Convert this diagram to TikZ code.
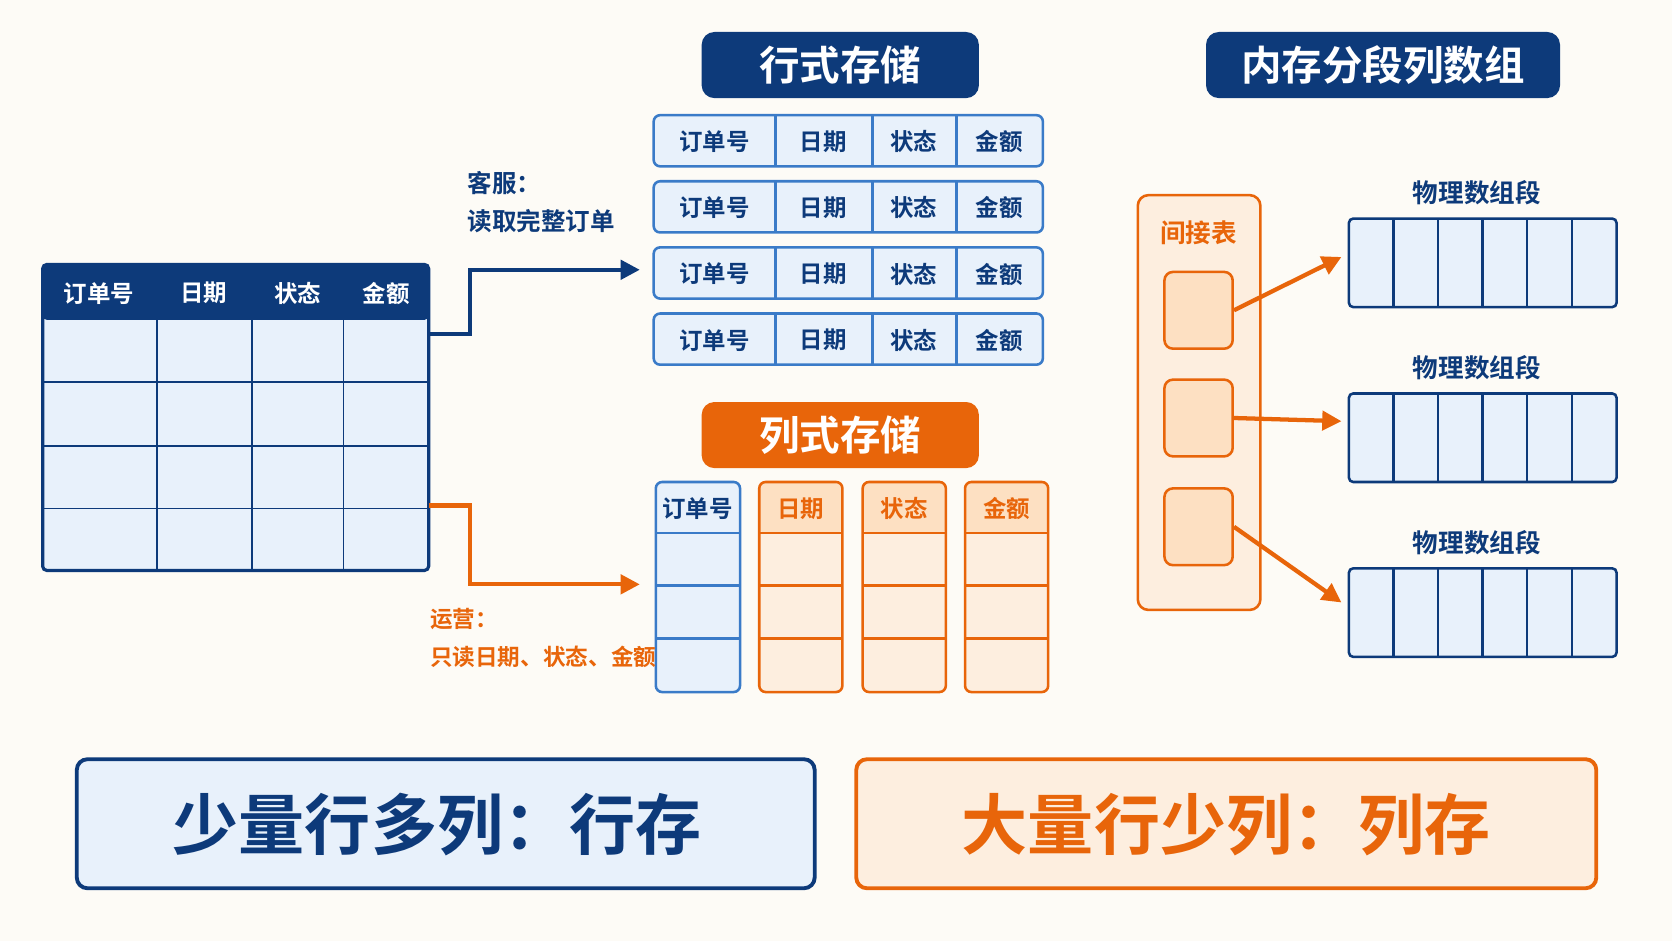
\documentclass[tikz,border=0pt]{standalone}
\usepackage{fontspec}
\setmainfont{Noto Sans CJK SC}[UprightFont=* Bold]
\usetikzlibrary{arrows.meta,positioning}
\definecolor{navy}{HTML}{0D3A7A}
\definecolor{lblue}{HTML}{E8F1FB}
\definecolor{mblue}{HTML}{3A7BC8}
\definecolor{orng}{HTML}{E8650A}
\definecolor{lorng}{HTML}{FDEEDF}
\definecolor{morng}{HTML}{FDE0C2}
\definecolor{bg}{HTML}{FDFBF6}
\begin{document}
\begin{tikzpicture}[x=0.5pt,y=-0.5pt,
    title/.style={fill=#1, text=white, rounded corners=6pt, font=\fontsize{19}{19}\selectfont, minimum width=130pt, minimum height=31pt, inner sep=0},
    cell/.style={font=\fontsize{11}{11}\selectfont, text=#1},
    lbl/.style={font=\fontsize{11.5}{14}\selectfont, text=#1, anchor=north west, align=left, inner sep=0},
    seg/.style={font=\fontsize{12}{12}\selectfont, text=navy},
    arr/.style={line width=2pt, -{Triangle[length=9pt,width=9pt]}}]
\fill[bg] (0,0) rectangle (1568,882);
% source table
\fill[lblue] (40,248) rectangle (402,535);
\fill[navy,rounded corners=2pt] (40,248) rectangle (402,300);
\foreach \y in {358,418,477} \draw[navy,thick] (40,\y) -- (402,\y);
\foreach \x in {147,236,322} \draw[navy,thick] (\x,248) -- (\x,535);
\draw[navy,line width=1.5pt,rounded corners=2pt] (40,248) rectangle (402,535);
\foreach \t/\x in {订单号/93,日期/191,状态/279,金额/362}
  \node[cell=white] at (\x,275) {\t};
\coordinate (srcA) at (402,313);
\coordinate (srcB) at (402,474);
% row storage
\node[title=navy] (rowtitle) at (788,61) {行式存储};
\foreach \y [count=\i] in {108,170,232,294} {
  \draw[mblue,fill=lblue,line width=1.2pt,rounded corners=3pt] (613,\y) rectangle (978,\y+48);
  \foreach \x in {727,818,897} \draw[mblue,line width=1.2pt] (\x,\y) -- (\x,\y+48);
  \foreach \t/\x in {订单号/670,日期/772,状态/857,金额/937}
    \node[cell=navy] at (\x,\y+25) {\t};
}
\coordinate (rowin) at (600,253);
\node[lbl=navy] (svc) at (438,160) {客服：\\[4pt]读取完整订单};
% column storage
\node[title=orng] (coltitle) at (788,408) {列式存储};
\draw[mblue,fill=lblue,line width=1.2pt,rounded corners=3pt] (615,452) rectangle (694,649);
\foreach \y in {500,549,599} \draw[mblue,line width=1.2pt] (615,\y) -- (694,\y);
\node[cell=navy] at (654,477) {订单号};
\foreach \x/\t in {712/日期,809/状态,905/金额} {
  \fill[lorng,rounded corners=3pt] (\x,452) rectangle (\x+78,649);
  \fill[morng,rounded corners=3pt] (\x,452) rectangle (\x+78,500);
  \foreach \y in {500,549,599} \draw[orng,line width=1.2pt] (\x,\y) -- (\x+78,\y);
  \draw[orng,line width=1.2pt,rounded corners=3pt] (\x,452) rectangle (\x+78,649);
  \node[cell=orng] at (\x+39,477) {\t};
}
\coordinate (colin) at (600,548);
% arrows
\draw[arr,navy] (srcA) -- ++(39,0) |- (rowin);
\draw[arr,orng] (srcB) -- ++(39,0) |- (colin);
\node[lbl=orng, font=\fontsize{10.6}{14}\selectfont] (ops) at (403,570) {运营：\\[4pt]只读日期、状态、金额};
% segmented array
\node[title=navy, minimum width=166pt] (segtitle) at (1297,61) {内存分段列数组};
\draw[orng,fill=lorng,line width=1.2pt,rounded corners=5pt] (1067,183) rectangle (1182,572);
\node[cell=orng, font=\fontsize{12}{12}\selectfont] at (1124,218) {间接表};
\foreach \y [count=\i] in {255,356,458}
  \node[draw=orng, fill=morng, line width=1.2pt, rounded corners=4pt, minimum width=32pt, minimum height=36pt, inner sep=0] (ind\i) at (1124,\y+36) {};
\foreach \y [count=\i] in {205,369,533} {
  \node[seg] at (1385,\y-24) {物理数组段};
  \draw[navy,fill=lblue,line width=1.2pt,rounded corners=2pt] (1265,\y) rectangle (1516,\y+83);
  \foreach \k in {1,...,5} \draw[navy,line width=1.2pt] (1265+\k*41.8,\y) -- (1265+\k*41.8,\y+83);
}
\coordinate (seg1) at (1258,241);
\coordinate (seg2) at (1258,395);
\coordinate (seg3) at (1258,565);
\draw[arr,orng] (ind1.east) -- (seg1);
\draw[arr,orng] (ind2.east) -- (seg2);
\draw[arr,orng] (ind3.east) -- (seg3);
% conclusions
\draw[navy,fill=lblue,line width=1.8pt,rounded corners=5pt] (72,712) rectangle (764,833);
\node[text=navy, font=\fontsize{31}{31}\selectfont] (few) at (410,773) {少量行多列：行存};
\draw[orng,fill=lorng,line width=1.8pt,rounded corners=5pt] (803,712) rectangle (1497,833);
\node[text=orng, font=\fontsize{31}{31}\selectfont] (many) at (1150,773) {大量行少列：列存};
\end{tikzpicture}
\end{document}
